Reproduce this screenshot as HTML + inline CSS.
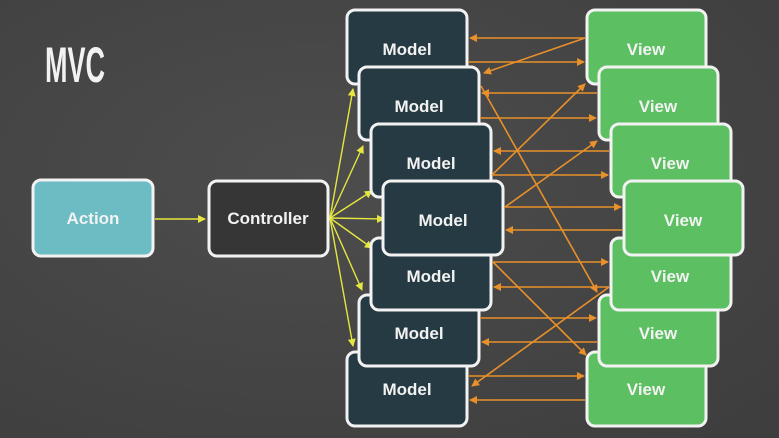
<!DOCTYPE html>
<html><head><meta charset="utf-8"><style>
html,body{margin:0;padding:0;width:779px;height:438px;overflow:hidden;background:#454545;}
svg{display:block}
text{font-family:"Liberation Sans",sans-serif;font-weight:bold;fill:#f2f2f2;font-size:17px;}
</style></head><body>
<svg width="779" height="438" viewBox="0 0 779 438" xmlns="http://www.w3.org/2000/svg">
<defs>
<marker id="o" markerWidth="8" markerHeight="8" refX="7" refY="4" orient="auto" markerUnits="userSpaceOnUse"><path d="M0,0 L8,4 L0,8 z" fill="#e8902a"/></marker>
<marker id="y" markerWidth="8" markerHeight="8" refX="7" refY="4" orient="auto" markerUnits="userSpaceOnUse"><path d="M0,0 L8,4 L0,8 z" fill="#e6e640"/></marker>
<radialGradient id="bg" cx="0.4" cy="0.4" r="0.8"><stop offset="0" stop-color="#4d4d4d"/><stop offset="1" stop-color="#3e3e3e"/></radialGradient>
</defs>
<rect width="779" height="438" fill="url(#bg)"/>
<text x="45" y="82" textLength="60" lengthAdjust="spacingAndGlyphs" style="font-size:50px;font-weight:bold">MVC</text>

<rect x="33" y="180" width="120" height="76" rx="8" fill="#6cbcc4" stroke="#f2f2f2" stroke-width="3"/>
<text x="93" y="224" text-anchor="middle">Action</text>
<rect x="209" y="181" width="119" height="75" rx="8" fill="#363636" stroke="#f2f2f2" stroke-width="3"/>
<text x="268" y="224" text-anchor="middle">Controller</text>
<line x1="155" y1="219" x2="205" y2="219" stroke="#e6e640" stroke-width="1.6" marker-end="url(#y)"/>

<g stroke="#e6e640" stroke-width="1.4" fill="none">
<line x1="330" y1="218" x2="353" y2="89" marker-end="url(#y)"/>
<line x1="330" y1="218" x2="363" y2="146" marker-end="url(#y)"/>
<line x1="330" y1="218" x2="372" y2="191" marker-end="url(#y)"/>
<line x1="330" y1="218" x2="384" y2="219" marker-end="url(#y)"/>
<line x1="330" y1="218" x2="372" y2="248" marker-end="url(#y)"/>
<line x1="330" y1="218" x2="362" y2="290" marker-end="url(#y)"/>
<line x1="330" y1="218" x2="353" y2="346" marker-end="url(#y)"/>
</g>

<g stroke="#f2f2f2" stroke-width="3" fill="#253a42">
<rect x="347" y="352" width="120" height="74" rx="8"/>
<rect x="359" y="295" width="120" height="71" rx="8"/>
<rect x="371" y="238" width="120" height="72" rx="8"/>
<rect x="347" y="10" width="120" height="74" rx="8"/>
<rect x="359" y="67" width="120" height="73" rx="8"/>
<rect x="371" y="124" width="120" height="73" rx="8"/>
<rect x="383" y="181" width="120" height="74" rx="8"/>
</g>
<g text-anchor="middle">
<text x="407" y="55">Model</text>
<text x="419" y="112">Model</text>
<text x="431" y="169">Model</text>
<text x="443" y="226">Model</text>
<text x="431" y="282">Model</text>
<text x="419" y="339">Model</text>
<text x="407" y="395">Model</text>
</g>

<g stroke="#f2f2f2" stroke-width="3" fill="#5cbf62">
<rect x="587" y="352" width="119" height="74" rx="8"/>
<rect x="599" y="295" width="119" height="71" rx="8"/>
<rect x="611" y="238" width="120" height="72" rx="8"/>
<rect x="587" y="10" width="119" height="74" rx="8"/>
<rect x="599" y="67" width="119" height="73" rx="8"/>
<rect x="611" y="124" width="120" height="73" rx="8"/>
<rect x="624" y="181" width="119" height="74" rx="8"/>
</g>
<g text-anchor="middle">
<text x="646" y="55">View</text>
<text x="658" y="112">View</text>
<text x="670" y="169">View</text>
<text x="683" y="226">View</text>
<text x="670" y="282">View</text>
<text x="658" y="339">View</text>
<text x="646" y="395">View</text>
</g>

<g stroke="#e8902a" stroke-width="1.6" fill="none">
<line x1="585" y1="38" x2="470" y2="38" marker-end="url(#o)"/>
<line x1="468" y1="62" x2="584" y2="62" marker-end="url(#o)"/>
<line x1="597" y1="93" x2="482" y2="93" marker-end="url(#o)"/>
<line x1="480" y1="118" x2="596" y2="118" marker-end="url(#o)"/>
<line x1="609" y1="151" x2="494" y2="151" marker-end="url(#o)"/>
<line x1="492" y1="175" x2="608" y2="175" marker-end="url(#o)"/>
<line x1="504" y1="207" x2="621" y2="207" marker-end="url(#o)"/>
<line x1="622" y1="230" x2="506" y2="230" marker-end="url(#o)"/>
<line x1="492" y1="262" x2="608" y2="262" marker-end="url(#o)"/>
<line x1="609" y1="287" x2="494" y2="287" marker-end="url(#o)"/>
<line x1="480" y1="318" x2="596" y2="318" marker-end="url(#o)"/>
<line x1="597" y1="342" x2="482" y2="342" marker-end="url(#o)"/>
<line x1="468" y1="376" x2="584" y2="376" marker-end="url(#o)"/>
<line x1="585" y1="400" x2="470" y2="400" marker-end="url(#o)"/>
<line x1="585" y1="38" x2="484" y2="73" marker-end="url(#o)"/>
<line x1="481" y1="86" x2="597" y2="292" marker-end="url(#o)"/>
<line x1="492" y1="175" x2="585" y2="84" marker-end="url(#o)"/>
<line x1="505" y1="207" x2="597" y2="141" marker-end="url(#o)"/>
<line x1="493" y1="262" x2="586" y2="355" marker-end="url(#o)"/>
<line x1="609" y1="287" x2="472" y2="386" marker-end="url(#o)"/>
</g>
</svg>
</body></html>
